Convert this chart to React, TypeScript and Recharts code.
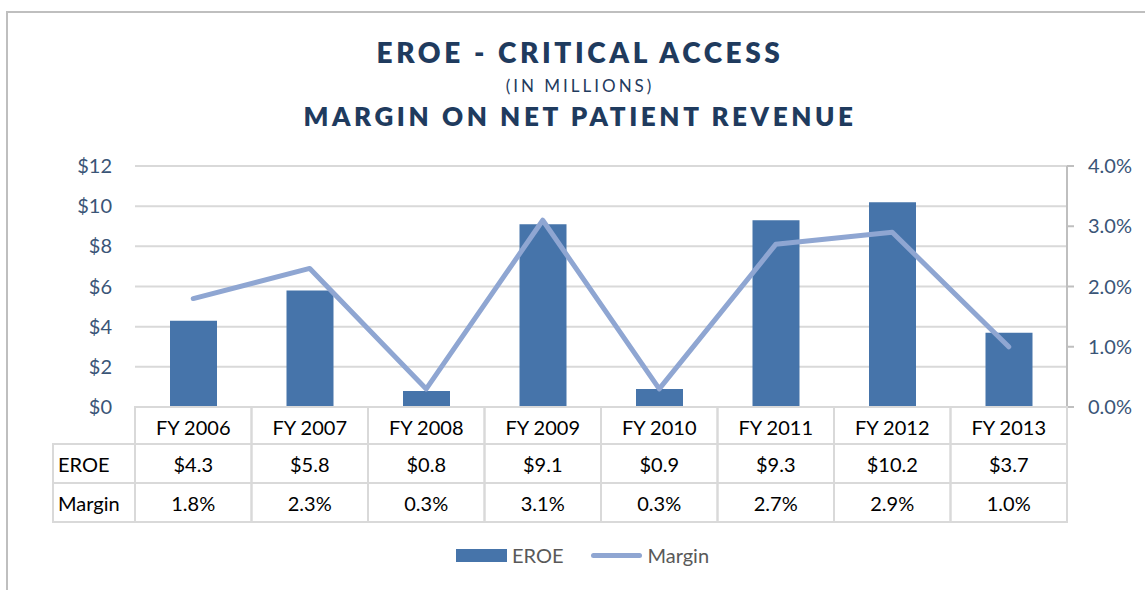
import React from 'react';
import {
  ComposedChart,
  Bar,
  Line,
  XAxis,
  YAxis,
  CartesianGrid,
  Legend
} from 'recharts';

// data
const years = ['FY 2006', 'FY 2007', 'FY 2008', 'FY 2009', 'FY 2010', 'FY 2011', 'FY 2012', 'FY 2013'];
const eroe = [4.3, 5.8, 0.8, 9.1, 0.9, 9.3, 10.2, 3.7];
const margin = [1.8, 2.3, 0.3, 3.1, 0.3, 2.7, 2.9, 1.0];
const leftTicks = [0, 2, 4, 6, 8, 10, 12];
const rightTicks = [0, 1, 2, 3, 4];

const data = years.map((year, i) => ({ year, eroe: eroe[i], margin: margin[i] }));

const W = 1145;
const H = 590;
const PLOT_LEFT = 135;
const PLOT_RIGHT = 1067;
const BAND = (PLOT_RIGHT - PLOT_LEFT) / years.length;
const ROW = [37, 39, 39];
const LABEL_COL = 82;

const NAVY = '#1F3B5E';
const AXIS_TEXT = '#3A5577';
const BAR = '#4674AA';
const LINE = '#8FA6D2';
const GRID = '#D9D9D9';
const FONT = 'Lato, "Open Sans", sans-serif';

const TableTick = (props: any) => {
  const { x, y, index } = props;
  const left = x - BAND / 2;
  const y1 = y + ROW[0];
  const y2 = y1 + ROW[1];
  const cellStyle = { fill: 'none', stroke: GRID, strokeWidth: 2 };
  const textProps = { fontSize: 20, fill: '#000', fontFamily: FONT, dominantBaseline: 'central' as const };
  return (
    <g>
      <rect x={left} y={y} width={BAND} height={ROW[0]} {...cellStyle} />
      <rect x={left} y={y1} width={BAND} height={ROW[1]} {...cellStyle} />
      <rect x={left} y={y2} width={BAND} height={ROW[2]} {...cellStyle} />
      <text x={x} y={y + ROW[0] / 2 + 1} textAnchor="middle" {...textProps}>{years[index]}</text>
      <text x={x} y={y1 + ROW[1] / 2} textAnchor="middle" {...textProps}>{`$${eroe[index].toFixed(1)}`}</text>
      <text x={x} y={y2 + ROW[2] / 2} textAnchor="middle" {...textProps}>{`${margin[index].toFixed(1)}%`}</text>
      {index === 0 && (
        <g>
          <rect x={left - LABEL_COL} y={y1} width={LABEL_COL} height={ROW[1]} {...cellStyle} />
          <rect x={left - LABEL_COL} y={y2} width={LABEL_COL} height={ROW[2]} {...cellStyle} />
          <text x={left - LABEL_COL + 5} y={y1 + ROW[1] / 2} textAnchor="start" {...textProps}>EROE</text>
          <text x={left - LABEL_COL + 5} y={y2 + ROW[2] / 2} textAnchor="start" {...textProps}>Margin</text>
        </g>
      )}
    </g>
  );
};

const LegendContent = () => (
  <div style={{ display: 'flex', justifyContent: 'center', alignItems: 'center', fontFamily: FONT, fontSize: 20, color: '#595959' }}>
    <span style={{ display: 'inline-block', width: 51, height: 13, background: BAR, marginRight: 5 }} />
    <span style={{ marginRight: 28 }}>EROE</span>
    <span style={{ display: 'inline-block', width: 51, height: 5, borderRadius: 3, background: LINE, marginRight: 5 }} />
    <span>Margin</span>
  </div>
);

export default function App() {
  return (
    <div style={{ position: 'absolute', left: 0, top: 0, width: W, height: H, background: '#fff', overflow: 'hidden' }}>
      {/* frame */}
      <div style={{ position: 'absolute', left: 6, top: 11, width: W, height: 2, background: '#BFBFBF' }} />
      <div style={{ position: 'absolute', left: 6, top: 11, width: 2, height: H, background: '#BFBFBF' }} />

      {/* titles */}
      <div style={{ position: 'absolute', left: 0, width: 1160, top: 35, textAlign: 'center', fontFamily: FONT, fontWeight: 800, fontSize: 28, lineHeight: '34px', letterSpacing: 3.6, color: NAVY }}>
        EROE - CRITICAL ACCESS
      </div>
      <div style={{ position: 'absolute', left: 0, width: 1160, top: 76, textAlign: 'center', fontFamily: FONT, fontSize: 17, lineHeight: '20px', letterSpacing: 3, color: NAVY }}>
        (IN MILLIONS)
      </div>
      <div style={{ position: 'absolute', left: 0, width: 1160, top: 100, textAlign: 'center', fontFamily: FONT, fontWeight: 800, fontSize: 26, lineHeight: '32px', letterSpacing: 3.6, color: NAVY }}>
        MARGIN ON NET PATIENT REVENUE
      </div>

      <div style={{ position: 'absolute', left: 0, top: 0 }}>
        <ComposedChart
          width={W}
          height={H}
          data={data}
          margin={{ top: 166, right: W - PLOT_RIGHT - 60, bottom: 68, left: PLOT_LEFT - 60 }}
          barCategoryGap="30%"
        >
          <CartesianGrid yAxisId="left" vertical={false} stroke={GRID} strokeWidth={2} />
          <XAxis
            dataKey="year"
            height={115}
            tickLine={false}
            tickSize={0}
            tickMargin={0}
            axisLine={{ stroke: GRID, strokeWidth: 2 }}
            tick={<TableTick />}
            interval={0}
          />
          <YAxis
            yAxisId="left"
            orientation="left"
            width={60}
            domain={[0, 12]}
            ticks={leftTicks}
            tickFormatter={(v: number) => `$${v}`}
            axisLine={false}
            tickLine={false}
            tickMargin={17}
            tick={{ fill: AXIS_TEXT, fontSize: 20, fontFamily: FONT }}
          />
          <YAxis
            yAxisId="right"
            orientation="right"
            width={60}
            domain={[0, 4]}
            ticks={rightTicks}
            tickFormatter={(v: number) => `${v.toFixed(1)}%`}
            axisLine={{ stroke: '#BFBFBF', strokeWidth: 2 }}
            tickLine={{ stroke: '#BFBFBF', strokeWidth: 2 }}
            tickSize={7}
            tickMargin={14}
            tick={{ fill: AXIS_TEXT, fontSize: 20, fontFamily: FONT }}
          />
          <Bar yAxisId="left" dataKey="eroe" name="EROE" fill={BAR} barSize={47} isAnimationActive={false} />
          <Line
            yAxisId="right"
            dataKey="margin"
            name="Margin"
            type="linear"
            stroke={LINE}
            strokeWidth={5}
            strokeLinecap="round"
            strokeLinejoin="round"
            dot={false}
            activeDot={false}
            isAnimationActive={false}
          />
          <Legend
            layout="horizontal"
            verticalAlign="middle"
            align="center"
            content={<LegendContent />}
            wrapperStyle={{ top: 543, left: 0, width: W + 20 }}
          />
        </ComposedChart>
      </div>
    </div>
  );
}
